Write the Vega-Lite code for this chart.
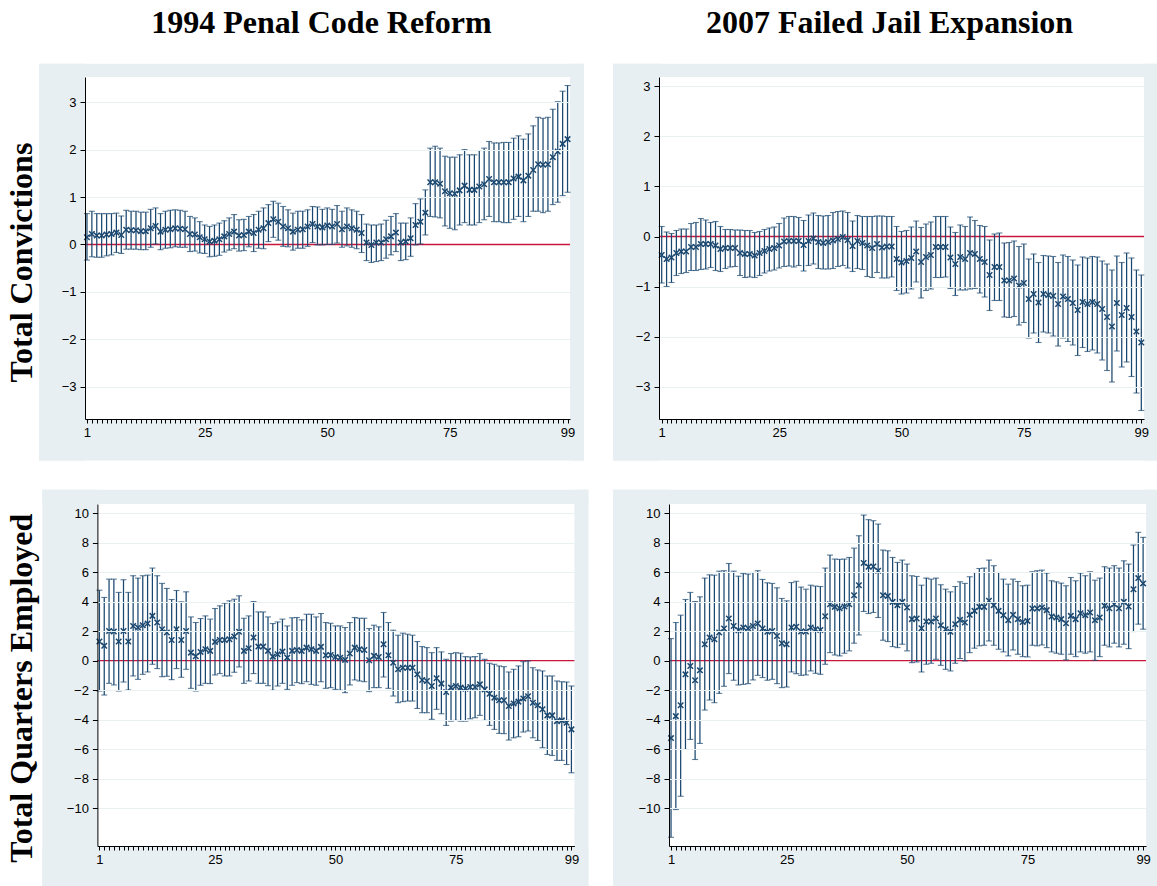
{
  "$schema": "https://vega.github.io/schema/vega-lite/v6.json",
  "background": "white",
  "padding": {"left": 5, "top": 6, "right": 0, "bottom": 0},
  "config": {
    "view": {"stroke": null},
    "axis": {"labelFont": "Liberation Sans", "labelFontSize": 13, "labelColor": "black", "domainColor": "black", "domainWidth": 1, "tickColor": "black", "tickWidth": 1, "gridColor": "#e9f1f3", "gridWidth": 1, "labelOverlap": false, "tickCount": 200, "format": "d"},
    "title": {"font": "Liberation Serif", "fontSize": 32, "fontWeight": "bold", "color": "black"}
  },
  "datasets": {
    "p1": [
      {"q":1,"est":0.15,"lo":-0.33,"hi":0.65},{"q":2,"est":0.22,"lo":-0.26,"hi":0.70},{"q":3,"est":0.19,"lo":-0.27,"hi":0.65},{"q":4,"est":0.19,"lo":-0.27,"hi":0.65},{"q":5,"est":0.21,"lo":-0.24,"hi":0.65},{"q":6,"est":0.22,"lo":-0.22,"hi":0.65},{"q":7,"est":0.25,"lo":-0.17,"hi":0.66},{"q":8,"est":0.20,"lo":-0.19,"hi":0.60},{"q":9,"est":0.31,"lo":-0.10,"hi":0.72},{"q":10,"est":0.30,"lo":-0.10,"hi":0.70},
      {"q":11,"est":0.30,"lo":-0.10,"hi":0.70},{"q":12,"est":0.28,"lo":-0.11,"hi":0.68},{"q":13,"est":0.28,"lo":-0.11,"hi":0.68},{"q":14,"est":0.34,"lo":-0.06,"hi":0.74},{"q":15,"est":0.39,"lo":0.01,"hi":0.77},{"q":16,"est":0.27,"lo":-0.11,"hi":0.65},{"q":17,"est":0.31,"lo":-0.08,"hi":0.70},{"q":18,"est":0.32,"lo":-0.07,"hi":0.72},{"q":19,"est":0.34,"lo":-0.05,"hi":0.73},{"q":20,"est":0.33,"lo":-0.06,"hi":0.72},
      {"q":21,"est":0.32,"lo":-0.06,"hi":0.70},{"q":22,"est":0.22,"lo":-0.15,"hi":0.59},{"q":23,"est":0.21,"lo":-0.14,"hi":0.56},{"q":24,"est":0.15,"lo":-0.18,"hi":0.48},{"q":25,"est":0.11,"lo":-0.19,"hi":0.41},{"q":26,"est":0.06,"lo":-0.26,"hi":0.38},{"q":27,"est":0.08,"lo":-0.25,"hi":0.41},{"q":28,"est":0.11,"lo":-0.23,"hi":0.45},{"q":29,"est":0.17,"lo":-0.16,"hi":0.50},{"q":30,"est":0.22,"lo":-0.12,"hi":0.56},
      {"q":31,"est":0.27,"lo":-0.09,"hi":0.63},{"q":32,"est":0.19,"lo":-0.14,"hi":0.52},{"q":33,"est":0.20,"lo":-0.13,"hi":0.53},{"q":34,"est":0.27,"lo":-0.05,"hi":0.59},{"q":35,"est":0.24,"lo":-0.15,"hi":0.63},{"q":36,"est":0.31,"lo":-0.08,"hi":0.70},{"q":37,"est":0.34,"lo":-0.09,"hi":0.77},{"q":38,"est":0.45,"lo":0.06,"hi":0.84},{"q":39,"est":0.53,"lo":0.15,"hi":0.91},{"q":40,"est":0.48,"lo":0.09,"hi":0.87},
      {"q":41,"est":0.38,"lo":-0.04,"hi":0.80},{"q":42,"est":0.34,"lo":-0.05,"hi":0.73},{"q":43,"est":0.27,"lo":-0.12,"hi":0.66},{"q":44,"est":0.31,"lo":-0.08,"hi":0.70},{"q":45,"est":0.32,"lo":-0.08,"hi":0.70},{"q":46,"est":0.38,"lo":-0.04,"hi":0.73},{"q":47,"est":0.43,"lo":0.04,"hi":0.80},{"q":48,"est":0.38,"lo":-0.01,"hi":0.79},{"q":49,"est":0.36,"lo":-0.01,"hi":0.74},{"q":50,"est":0.40,"lo":0.00,"hi":0.77},
      {"q":51,"est":0.38,"lo":0.00,"hi":0.74},{"q":52,"est":0.43,"lo":0.03,"hi":0.82},{"q":53,"est":0.32,"lo":-0.06,"hi":0.70},{"q":54,"est":0.38,"lo":-0.03,"hi":0.77},{"q":55,"est":0.34,"lo":-0.06,"hi":0.73},{"q":56,"est":0.31,"lo":-0.09,"hi":0.70},{"q":57,"est":0.24,"lo":-0.17,"hi":0.63},{"q":58,"est":0.04,"lo":-0.34,"hi":0.43},{"q":59,"est":-0.01,"lo":-0.38,"hi":0.41},{"q":60,"est":0.04,"lo":-0.36,"hi":0.41},
      {"q":61,"est":0.04,"lo":-0.34,"hi":0.43},{"q":62,"est":0.11,"lo":-0.29,"hi":0.51},{"q":63,"est":0.17,"lo":-0.22,"hi":0.59},{"q":64,"est":0.25,"lo":-0.15,"hi":0.65},{"q":65,"est":0.04,"lo":-0.34,"hi":0.45},{"q":66,"est":0.06,"lo":-0.32,"hi":0.45},{"q":67,"est":0.13,"lo":-0.25,"hi":0.56},{"q":68,"est":0.41,"lo":-0.01,"hi":0.86},{"q":69,"est":0.48,"lo":0.01,"hi":0.96},{"q":70,"est":0.67,"lo":0.20,"hi":1.15},
      {"q":71,"est":1.31,"lo":0.59,"hi":2.03},{"q":72,"est":1.31,"lo":0.58,"hi":2.07},{"q":73,"est":1.28,"lo":0.56,"hi":2.03},{"q":74,"est":1.12,"lo":0.39,"hi":1.86},{"q":75,"est":1.08,"lo":0.34,"hi":1.84},{"q":76,"est":1.07,"lo":0.31,"hi":1.84},{"q":77,"est":1.14,"lo":0.41,"hi":1.89},{"q":78,"est":1.24,"lo":0.46,"hi":2.00},{"q":79,"est":1.15,"lo":0.41,"hi":1.89},{"q":80,"est":1.15,"lo":0.41,"hi":1.89},
      {"q":81,"est":1.22,"lo":0.46,"hi":1.98},{"q":82,"est":1.27,"lo":0.52,"hi":2.03},{"q":83,"est":1.38,"lo":0.59,"hi":2.17},{"q":84,"est":1.31,"lo":0.48,"hi":2.14},{"q":85,"est":1.31,"lo":0.48,"hi":2.14},{"q":86,"est":1.31,"lo":0.46,"hi":2.15},{"q":87,"est":1.31,"lo":0.46,"hi":2.15},{"q":88,"est":1.39,"lo":0.53,"hi":2.24},{"q":89,"est":1.43,"lo":0.59,"hi":2.29},{"q":90,"est":1.35,"lo":0.48,"hi":2.22},
      {"q":91,"est":1.45,"lo":0.59,"hi":2.33},{"q":92,"est":1.57,"lo":0.70,"hi":2.50},{"q":93,"est":1.69,"lo":0.70,"hi":2.68},{"q":94,"est":1.68,"lo":0.67,"hi":2.66},{"q":95,"est":1.69,"lo":0.70,"hi":2.68},{"q":96,"est":1.84,"lo":0.84,"hi":2.85},{"q":97,"est":1.96,"lo":0.89,"hi":3.01},{"q":98,"est":2.12,"lo":1.03,"hi":3.23},{"q":99,"est":2.22,"lo":1.10,"hi":3.35}
    ],
    "p2": [
      {"q":1,"est":-0.37,"lo":-0.93,"hi":0.20},{"q":2,"est":-0.45,"lo":-1.00,"hi":0.09},{"q":3,"est":-0.42,"lo":-0.92,"hi":0.06},{"q":4,"est":-0.33,"lo":-0.78,"hi":0.12},{"q":5,"est":-0.30,"lo":-0.74,"hi":0.15},{"q":6,"est":-0.30,"lo":-0.72,"hi":0.15},{"q":7,"est":-0.21,"lo":-0.68,"hi":0.26},{"q":8,"est":-0.21,"lo":-0.68,"hi":0.28},{"q":9,"est":-0.15,"lo":-0.66,"hi":0.36},{"q":10,"est":-0.15,"lo":-0.65,"hi":0.33},
      {"q":11,"est":-0.15,"lo":-0.62,"hi":0.28},{"q":12,"est":-0.18,"lo":-0.68,"hi":0.30},{"q":13,"est":-0.25,"lo":-0.70,"hi":0.20},{"q":14,"est":-0.23,"lo":-0.64,"hi":0.14},{"q":15,"est":-0.23,"lo":-0.61,"hi":0.14},{"q":16,"est":-0.23,"lo":-0.60,"hi":0.13},{"q":17,"est":-0.33,"lo":-0.78,"hi":0.13},{"q":18,"est":-0.35,"lo":-0.82,"hi":0.12},{"q":19,"est":-0.35,"lo":-0.81,"hi":0.12},{"q":20,"est":-0.38,"lo":-0.82,"hi":0.08},
      {"q":21,"est":-0.33,"lo":-0.78,"hi":0.10},{"q":22,"est":-0.29,"lo":-0.73,"hi":0.14},{"q":23,"est":-0.25,"lo":-0.69,"hi":0.17},{"q":24,"est":-0.23,"lo":-0.67,"hi":0.19},{"q":25,"est":-0.18,"lo":-0.63,"hi":0.26},{"q":26,"est":-0.10,"lo":-0.60,"hi":0.37},{"q":27,"est":-0.09,"lo":-0.59,"hi":0.40},{"q":28,"est":-0.09,"lo":-0.61,"hi":0.40},{"q":29,"est":-0.09,"lo":-0.58,"hi":0.38},{"q":30,"est":-0.17,"lo":-0.69,"hi":0.32},
      {"q":31,"est":-0.09,"lo":-0.58,"hi":0.43},{"q":32,"est":-0.04,"lo":-0.55,"hi":0.47},{"q":33,"est":-0.11,"lo":-0.64,"hi":0.42},{"q":34,"est":-0.13,"lo":-0.65,"hi":0.41},{"q":35,"est":-0.11,"lo":-0.65,"hi":0.42},{"q":36,"est":-0.08,"lo":-0.64,"hi":0.48},{"q":37,"est":-0.05,"lo":-0.60,"hi":0.50},{"q":38,"est":-0.01,"lo":-0.58,"hi":0.51},{"q":39,"est":-0.07,"lo":-0.63,"hi":0.48},{"q":40,"est":-0.19,"lo":-0.70,"hi":0.31},
      {"q":41,"est":-0.09,"lo":-0.64,"hi":0.42},{"q":42,"est":-0.13,"lo":-0.66,"hi":0.40},{"q":43,"est":-0.18,"lo":-0.80,"hi":0.40},{"q":44,"est":-0.23,"lo":-0.82,"hi":0.40},{"q":45,"est":-0.15,"lo":-0.72,"hi":0.41},{"q":46,"est":-0.22,"lo":-0.83,"hi":0.41},{"q":47,"est":-0.20,"lo":-0.83,"hi":0.40},{"q":48,"est":-0.20,"lo":-0.81,"hi":0.40},{"q":49,"est":-0.45,"lo":-1.08,"hi":0.20},{"q":50,"est":-0.52,"lo":-1.15,"hi":0.10},
      {"q":51,"est":-0.49,"lo":-1.13,"hi":0.12},{"q":52,"est":-0.43,"lo":-1.05,"hi":0.19},{"q":53,"est":-0.30,"lo":-0.91,"hi":0.31},{"q":54,"est":-0.51,"lo":-1.23,"hi":0.18},{"q":55,"est":-0.41,"lo":-1.08,"hi":0.25},{"q":56,"est":-0.37,"lo":-1.05,"hi":0.29},{"q":57,"est":-0.21,"lo":-0.82,"hi":0.40},{"q":58,"est":-0.21,"lo":-0.82,"hi":0.40},{"q":59,"est":-0.21,"lo":-0.81,"hi":0.40},{"q":60,"est":-0.42,"lo":-1.04,"hi":0.19},
      {"q":61,"est":-0.55,"lo":-1.18,"hi":0.08},{"q":62,"est":-0.41,"lo":-1.07,"hi":0.23},{"q":63,"est":-0.45,"lo":-1.07,"hi":0.20},{"q":64,"est":-0.33,"lo":-1.05,"hi":0.39},{"q":65,"est":-0.35,"lo":-1.04,"hi":0.32},{"q":66,"est":-0.45,"lo":-1.13,"hi":0.22},{"q":67,"est":-0.51,"lo":-1.21,"hi":0.20},{"q":68,"est":-0.77,"lo":-1.48,"hi":-0.07},{"q":69,"est":-0.61,"lo":-1.28,"hi":0.05},{"q":70,"est":-0.61,"lo":-1.28,"hi":0.07},
      {"q":71,"est":-0.88,"lo":-1.61,"hi":-0.13},{"q":72,"est":-0.88,"lo":-1.62,"hi":-0.12},{"q":73,"est":-0.84,"lo":-1.60,"hi":-0.09},{"q":74,"est":-0.98,"lo":-1.77,"hi":-0.20},{"q":75,"est":-0.93,"lo":-1.72,"hi":-0.15},{"q":76,"est":-1.25,"lo":-2.03,"hi":-0.45},{"q":77,"est":-1.15,"lo":-1.93,"hi":-0.35},{"q":78,"est":-1.32,"lo":-2.12,"hi":-0.52},{"q":79,"est":-1.15,"lo":-1.91,"hi":-0.38},{"q":80,"est":-1.17,"lo":-1.93,"hi":-0.39},
      {"q":81,"est":-1.19,"lo":-1.99,"hi":-0.40},{"q":82,"est":-1.35,"lo":-2.19,"hi":-0.52},{"q":83,"est":-1.20,"lo":-2.03,"hi":-0.37},{"q":84,"est":-1.25,"lo":-2.10,"hi":-0.40},{"q":85,"est":-1.33,"lo":-2.17,"hi":-0.47},{"q":86,"est":-1.47,"lo":-2.38,"hi":-0.57},{"q":87,"est":-1.31,"lo":-2.22,"hi":-0.41},{"q":88,"est":-1.35,"lo":-2.30,"hi":-0.43},{"q":89,"est":-1.31,"lo":-2.27,"hi":-0.40},{"q":90,"est":-1.35,"lo":-2.33,"hi":-0.41},
      {"q":91,"est":-1.45,"lo":-2.47,"hi":-0.49},{"q":92,"est":-1.61,"lo":-2.68,"hi":-0.55},{"q":93,"est":-1.80,"lo":-2.91,"hi":-0.67},{"q":94,"est":-1.33,"lo":-2.29,"hi":-0.39},{"q":95,"est":-1.57,"lo":-2.61,"hi":-0.52},{"q":96,"est":-1.43,"lo":-2.51,"hi":-0.33},{"q":97,"est":-1.61,"lo":-2.80,"hi":-0.43},{"q":98,"est":-1.90,"lo":-3.13,"hi":-0.67},{"q":99,"est":-2.12,"lo":-3.48,"hi":-0.77}
    ],
    "p3": [
      {"q":1,"est":1.29,"lo":-2.06,"hi":4.77},{"q":2,"est":1.00,"lo":-2.33,"hi":4.28},{"q":3,"est":2.01,"lo":-1.54,"hi":5.52},{"q":4,"est":1.97,"lo":-1.65,"hi":5.52},{"q":5,"est":1.29,"lo":-2.06,"hi":4.62},{"q":6,"est":2.01,"lo":-1.45,"hi":5.48},{"q":7,"est":1.29,"lo":-1.99,"hi":4.62},{"q":8,"est":2.35,"lo":-1.04,"hi":5.75},{"q":9,"est":2.24,"lo":-1.27,"hi":5.59},{"q":10,"est":2.40,"lo":-0.93,"hi":5.75},
      {"q":11,"est":2.51,"lo":-0.77,"hi":5.79},{"q":12,"est":3.03,"lo":-0.25,"hi":6.27},{"q":13,"est":2.58,"lo":-0.54,"hi":5.75},{"q":14,"est":2.13,"lo":-1.09,"hi":5.23},{"q":15,"est":1.90,"lo":-1.06,"hi":4.89},{"q":16,"est":1.40,"lo":-1.29,"hi":4.14},{"q":17,"est":2.13,"lo":-0.54,"hi":4.75},{"q":18,"est":1.40,"lo":-1.13,"hi":3.98},{"q":19,"est":2.01,"lo":-0.59,"hi":4.66},{"q":20,"est":0.54,"lo":-1.88,"hi":2.96},
      {"q":21,"est":0.29,"lo":-2.06,"hi":2.58},{"q":22,"est":0.59,"lo":-1.67,"hi":2.85},{"q":23,"est":0.77,"lo":-1.54,"hi":3.03},{"q":24,"est":0.66,"lo":-1.56,"hi":2.81},{"q":25,"est":1.27,"lo":-0.97,"hi":3.53},{"q":26,"est":1.40,"lo":-0.88,"hi":3.71},{"q":27,"est":1.40,"lo":-1.04,"hi":3.89},{"q":28,"est":1.45,"lo":-1.04,"hi":4.05},{"q":29,"est":1.63,"lo":-0.79,"hi":4.16},{"q":30,"est":1.95,"lo":-0.43,"hi":4.39},
      {"q":31,"est":0.66,"lo":-1.54,"hi":2.87},{"q":32,"est":0.84,"lo":-1.38,"hi":3.03},{"q":33,"est":1.56,"lo":-0.88,"hi":4.00},{"q":34,"est":0.95,"lo":-1.54,"hi":3.30},{"q":35,"est":0.95,"lo":-1.54,"hi":3.30},{"q":36,"est":0.66,"lo":-1.70,"hi":2.96},{"q":37,"est":0.27,"lo":-2.01,"hi":2.51},{"q":38,"est":0.43,"lo":-1.72,"hi":2.62},{"q":39,"est":0.61,"lo":-1.54,"hi":2.81},{"q":40,"est":0.20,"lo":-1.95,"hi":2.35},
      {"q":41,"est":0.66,"lo":-1.67,"hi":2.90},{"q":42,"est":0.72,"lo":-1.49,"hi":2.92},{"q":43,"est":0.66,"lo":-1.56,"hi":2.76},{"q":44,"est":0.88,"lo":-1.43,"hi":3.14},{"q":45,"est":0.77,"lo":-1.61,"hi":3.14},{"q":46,"est":0.66,"lo":-1.67,"hi":2.96},{"q":47,"est":0.93,"lo":-1.43,"hi":3.19},{"q":48,"est":0.36,"lo":-1.88,"hi":2.58},{"q":49,"est":0.38,"lo":-1.83,"hi":2.53},{"q":50,"est":0.25,"lo":-1.95,"hi":2.35},
      {"q":51,"est":0.20,"lo":-2.01,"hi":2.35},{"q":52,"est":0.05,"lo":-2.17,"hi":2.24},{"q":53,"est":0.48,"lo":-1.65,"hi":2.58},{"q":54,"est":0.88,"lo":-1.31,"hi":2.92},{"q":55,"est":0.77,"lo":-1.38,"hi":2.87},{"q":56,"est":0.72,"lo":-1.43,"hi":2.87},{"q":57,"est":0.02,"lo":-2.10,"hi":2.17},{"q":58,"est":0.32,"lo":-1.83,"hi":2.40},{"q":59,"est":0.25,"lo":-1.83,"hi":2.29},{"q":60,"est":1.11,"lo":-1.11,"hi":3.26},
      {"q":61,"est":0.36,"lo":-1.88,"hi":2.58},{"q":62,"est":-0.14,"lo":-2.40,"hi":2.06},{"q":63,"est":-0.59,"lo":-2.85,"hi":1.72},{"q":64,"est":-0.48,"lo":-2.78,"hi":1.86},{"q":65,"est":-0.48,"lo":-2.74,"hi":1.79},{"q":66,"est":-0.48,"lo":-2.74,"hi":1.72},{"q":67,"est":-0.93,"lo":-3.24,"hi":1.29},{"q":68,"est":-1.31,"lo":-3.53,"hi":0.95},{"q":69,"est":-1.38,"lo":-3.53,"hi":0.88},{"q":70,"est":-1.72,"lo":-3.98,"hi":0.54},
      {"q":71,"est":-1.20,"lo":-3.30,"hi":0.88},{"q":72,"est":-1.56,"lo":-3.60,"hi":0.59},{"q":73,"est":-2.13,"lo":-4.39,"hi":0.09},{"q":74,"est":-1.83,"lo":-4.10,"hi":0.48},{"q":75,"est":-1.72,"lo":-4.05,"hi":0.54},{"q":76,"est":-1.83,"lo":-4.10,"hi":0.50},{"q":77,"est":-1.90,"lo":-4.10,"hi":0.27},{"q":78,"est":-1.79,"lo":-3.94,"hi":0.25},{"q":79,"est":-1.79,"lo":-3.87,"hi":0.27},{"q":80,"est":-1.61,"lo":-3.71,"hi":0.48},
      {"q":81,"est":-1.95,"lo":-4.05,"hi":0.09},{"q":82,"est":-2.24,"lo":-4.39,"hi":-0.18},{"q":83,"est":-2.51,"lo":-4.66,"hi":-0.25},{"q":84,"est":-2.69,"lo":-4.93,"hi":-0.36},{"q":85,"est":-2.69,"lo":-4.95,"hi":-0.41},{"q":86,"est":-3.08,"lo":-5.38,"hi":-0.77},{"q":87,"est":-2.90,"lo":-5.23,"hi":-0.59},{"q":88,"est":-2.78,"lo":-5.16,"hi":-0.36},{"q":89,"est":-2.56,"lo":-4.84,"hi":-0.07},{"q":90,"est":-2.42,"lo":-4.77,"hi":-0.02},
      {"q":91,"est":-2.85,"lo":-5.23,"hi":-0.48},{"q":92,"est":-3.03,"lo":-5.41,"hi":-0.63},{"q":93,"est":-3.30,"lo":-5.90,"hi":-0.70},{"q":94,"est":-3.71,"lo":-6.36,"hi":-1.04},{"q":95,"est":-3.71,"lo":-6.43,"hi":-1.04},{"q":96,"est":-4.10,"lo":-6.76,"hi":-1.38},{"q":97,"est":-4.05,"lo":-6.76,"hi":-1.43},{"q":98,"est":-4.21,"lo":-7.04,"hi":-1.45},{"q":99,"est":-4.66,"lo":-7.60,"hi":-1.72}
    ],
    "p4": [
      {"q":1,"est":-5.25,"lo":-11.97,"hi":1.49},{"q":2,"est":-3.76,"lo":-10.09,"hi":2.58},{"q":3,"est":-3.03,"lo":-9.19,"hi":3.08},{"q":4,"est":-0.93,"lo":-6.02,"hi":4.14},{"q":5,"est":-0.36,"lo":-5.34,"hi":4.62},{"q":6,"est":-1.33,"lo":-6.70,"hi":4.00},{"q":7,"est":-0.66,"lo":-5.61,"hi":4.32},{"q":8,"est":1.11,"lo":-3.35,"hi":5.59},{"q":9,"est":1.56,"lo":-2.67,"hi":5.81},{"q":10,"est":1.45,"lo":-2.85,"hi":5.79},
      {"q":11,"est":1.90,"lo":-2.22,"hi":6.06},{"q":12,"est":2.17,"lo":-1.74,"hi":6.09},{"q":13,"est":2.85,"lo":-0.88,"hi":6.58},{"q":14,"est":2.35,"lo":-1.33,"hi":6.06},{"q":15,"est":2.06,"lo":-1.65,"hi":5.72},{"q":16,"est":2.24,"lo":-1.61,"hi":5.90},{"q":17,"est":2.19,"lo":-1.56,"hi":5.86},{"q":18,"est":2.35,"lo":-1.31,"hi":5.97},{"q":19,"est":2.51,"lo":-1.00,"hi":6.09},{"q":20,"est":2.17,"lo":-1.15,"hi":5.50},
      {"q":21,"est":1.95,"lo":-1.33,"hi":5.27},{"q":22,"est":2.01,"lo":-1.27,"hi":5.23},{"q":23,"est":1.67,"lo":-1.56,"hi":4.93},{"q":24,"est":1.18,"lo":-1.83,"hi":4.21},{"q":25,"est":1.11,"lo":-1.79,"hi":4.05},{"q":26,"est":2.24,"lo":-0.77,"hi":5.29},{"q":27,"est":2.29,"lo":-0.88,"hi":5.38},{"q":28,"est":1.97,"lo":-1.00,"hi":4.98},{"q":29,"est":1.97,"lo":-0.97,"hi":4.84},{"q":30,"est":2.24,"lo":-0.70,"hi":5.11},
      {"q":31,"est":2.13,"lo":-0.86,"hi":5.05},{"q":32,"est":2.08,"lo":-0.93,"hi":5.02},{"q":33,"est":3.01,"lo":-0.25,"hi":6.27},{"q":34,"est":3.82,"lo":0.54,"hi":7.15},{"q":35,"est":3.64,"lo":0.38,"hi":6.88},{"q":36,"est":3.55,"lo":0.32,"hi":6.86},{"q":37,"est":3.67,"lo":0.50,"hi":6.88},{"q":38,"est":3.82,"lo":0.66,"hi":6.99},{"q":39,"est":4.43,"lo":1.18,"hi":7.62},{"q":40,"est":5.11,"lo":1.74,"hi":8.46},
      {"q":41,"est":6.61,"lo":3.33,"hi":9.86},{"q":42,"est":6.36,"lo":3.19,"hi":9.55},{"q":43,"est":6.38,"lo":3.26,"hi":9.48},{"q":44,"est":6.09,"lo":2.92,"hi":9.25},{"q":45,"est":4.43,"lo":1.38,"hi":7.49},{"q":46,"est":4.37,"lo":1.29,"hi":7.44},{"q":47,"est":3.98,"lo":0.95,"hi":6.99},{"q":48,"est":3.76,"lo":0.88,"hi":6.65},{"q":49,"est":3.98,"lo":1.11,"hi":6.81},{"q":50,"est":3.60,"lo":0.66,"hi":6.54},
      {"q":51,"est":2.81,"lo":-0.14,"hi":5.75},{"q":52,"est":2.85,"lo":-0.09,"hi":5.70},{"q":53,"est":2.19,"lo":-0.77,"hi":5.11},{"q":54,"est":2.65,"lo":-0.25,"hi":5.59},{"q":55,"est":2.65,"lo":-0.18,"hi":5.52},{"q":56,"est":2.85,"lo":0.09,"hi":5.59},{"q":57,"est":2.40,"lo":-0.32,"hi":5.14},{"q":58,"est":2.13,"lo":-0.59,"hi":4.84},{"q":59,"est":1.95,"lo":-0.70,"hi":4.66},{"q":60,"est":2.47,"lo":-0.18,"hi":5.02},
      {"q":61,"est":2.76,"lo":0.14,"hi":5.34},{"q":62,"est":2.58,"lo":-0.02,"hi":5.23},{"q":63,"est":3.10,"lo":0.54,"hi":5.68},{"q":64,"est":3.37,"lo":0.84,"hi":5.97},{"q":65,"est":3.64,"lo":1.00,"hi":6.24},{"q":66,"est":3.64,"lo":1.04,"hi":6.27},{"q":67,"est":4.05,"lo":1.33,"hi":6.81},{"q":68,"est":3.76,"lo":1.04,"hi":6.43},{"q":69,"est":3.37,"lo":0.77,"hi":5.97},{"q":70,"est":3.08,"lo":0.59,"hi":5.52},
      {"q":71,"est":2.74,"lo":0.32,"hi":5.18},{"q":72,"est":3.10,"lo":0.72,"hi":5.52},{"q":73,"est":2.81,"lo":0.43,"hi":5.36},{"q":74,"est":2.62,"lo":0.27,"hi":5.07},{"q":75,"est":2.69,"lo":0.25,"hi":5.11},{"q":76,"est":3.53,"lo":1.04,"hi":6.02},{"q":77,"est":3.53,"lo":1.00,"hi":6.09},{"q":78,"est":3.60,"lo":1.06,"hi":6.13},{"q":79,"est":3.42,"lo":0.88,"hi":5.93},{"q":80,"est":2.99,"lo":0.59,"hi":5.41},
      {"q":81,"est":2.92,"lo":0.50,"hi":5.34},{"q":82,"est":2.81,"lo":0.43,"hi":5.25},{"q":83,"est":2.53,"lo":0.05,"hi":5.07},{"q":84,"est":3.03,"lo":0.43,"hi":5.63},{"q":85,"est":2.81,"lo":0.27,"hi":5.41},{"q":86,"est":3.21,"lo":0.59,"hi":5.93},{"q":87,"est":3.08,"lo":0.50,"hi":5.75},{"q":88,"est":3.26,"lo":0.59,"hi":6.02},{"q":89,"est":2.74,"lo":0.02,"hi":5.45},{"q":90,"est":2.92,"lo":0.27,"hi":5.59},
      {"q":91,"est":3.71,"lo":1.04,"hi":6.36},{"q":92,"est":3.55,"lo":0.93,"hi":6.27},{"q":93,"est":3.82,"lo":1.18,"hi":6.43},{"q":94,"est":3.55,"lo":0.93,"hi":6.27},{"q":95,"est":3.98,"lo":1.11,"hi":6.76},{"q":96,"est":3.67,"lo":0.81,"hi":6.54},{"q":97,"est":4.84,"lo":1.97,"hi":7.83},{"q":98,"est":5.59,"lo":2.47,"hi":8.69},{"q":99,"est":5.23,"lo":2.13,"hi":8.35}
    ]
  },
  "columns": 2,
  "align": {"row": "each", "column": "none"},
  "spacing": {"row": 28, "column": 23},
  "concat": [
    {
      "width": 485, "height": 342,
      "data": {"name": "p1"},
      "title": {"text": "1994 Penal Code Reform", "frame": "group", "anchor": "middle", "offset": 24, "dx": -6},
      "layer": [
        {"data": {"values": [{}]}, "mark": {"type": "rect", "color": "#e8eff2", "clip": false}, "encoding": {"x": {"datum": -8.78}, "x2": {"datum": 0.6}, "y": {"datum": -4.553}, "y2": {"datum": 3.81}}},
        {"data": {"values": [{}]}, "mark": {"type": "rect", "color": "#e8eff2", "clip": false}, "encoding": {"x": {"datum": 99.5}, "x2": {"datum": 102.35}, "y": {"datum": -4.553}, "y2": {"datum": 3.81}}},
        {"data": {"values": [{}]}, "mark": {"type": "rect", "color": "#e8eff2", "clip": false}, "encoding": {"x": {"datum": -8.78}, "x2": {"datum": 102.35}, "y": {"datum": 3.53}, "y2": {"datum": 3.81}}},
        {"data": {"values": [{}]}, "mark": {"type": "rect", "color": "#e8eff2", "clip": false}, "encoding": {"x": {"datum": -8.78}, "x2": {"datum": 102.35}, "y": {"datum": -4.553}, "y2": {"datum": -3.68}}},
        {"data": {"values": [{}]}, "mark": {"type": "rule", "color": "#c8163d", "strokeWidth": 1.4}, "encoding": {"y": {"datum": 0}}},
        {"mark": {"type": "rule", "color": "#1a476f", "strokeWidth": 1.25},
         "encoding": {
           "x": {"field": "q", "type": "quantitative", "scale": {"domain": [0.6, 99.5], "nice": false, "zero": false},
                 "axis": {"title": null, "grid": false, "zindex": 2, "tickCount": 200, "labelOverlap": false, "format": "d", "values": [1,2,3,4,5,6,7,8,9,10,11,12,13,14,15,16,17,18,19,20,21,22,23,24,25,26,27,28,29,30,31,32,33,34,35,36,37,38,39,40,41,42,43,44,45,46,47,48,49,50,51,52,53,54,55,56,57,58,59,60,61,62,63,64,65,66,67,68,69,70,71,72,73,74,75,76,77,78,79,80,81,82,83,84,85,86,87,88,89,90,91,92,93,94,95,96,97,98,99],
                          "labelExpr": "indexof([1,25,50,75,99], datum.value) >= 0 ? datum.label : ''", "labelFlush": false, "tickSize": 4, "labelPadding": 3}},
           "y": {"field": "lo", "type": "quantitative", "scale": {"domain": [-3.68, 3.53], "nice": false, "zero": false},
                 "axis": {"values": [-3,-2,-1,0,1,2,3], "format": "d", "tickCount": 200, "labelOverlap": false, "grid": true, "zindex": 2, "gridOpacity": {"condition": {"test": "datum.value === 0", "value": 0}, "value": 1}, "tickSize": 5, "labelPadding": 4,
                          "title": "Total Convictions", "titleFont": "Liberation Serif", "titleFontSize": 32, "titleFontWeight": "bold", "titleColor": "black", "titleX": -63.5, "titleY": 185, "titleAngle": -90, "titleAlign": "center", "titleBaseline": "middle"}},
           "y2": {"field": "hi"}
         }},
        {"mark": {"type": "tick", "orient": "horizontal", "size": 6, "thickness": 1.1, "color": "#1a476f"}, "encoding": {"x": {"field": "q", "type": "quantitative"}, "y": {"field": "lo", "type": "quantitative"}}},
        {"mark": {"type": "tick", "orient": "horizontal", "size": 6, "thickness": 1.1, "color": "#1a476f"}, "encoding": {"x": {"field": "q", "type": "quantitative"}, "y": {"field": "hi", "type": "quantitative"}}},
        {"mark": {"type": "point", "shape": "M-1,-1L1,1M-1,1L1,-1", "size": 30, "filled": false, "strokeWidth": 1.5, "color": "#1a476f", "opacity": 1}, "encoding": {"x": {"field": "q", "type": "quantitative"}, "y": {"field": "est", "type": "quantitative"}}}
      ]
    },
    {
      "width": 485, "height": 342,
      "data": {"name": "p2"},
      "title": {"text": "2007 Failed Jail Expansion", "frame": "group", "anchor": "middle", "offset": 24, "dx": -12},
      "layer": [
        {"data": {"values": [{}]}, "mark": {"type": "rect", "color": "#e8eff2", "clip": false}, "encoding": {"x": {"datum": -8.95}, "x2": {"datum": 0.45}, "y": {"datum": -4.478}, "y2": {"datum": 3.456}}},
        {"data": {"values": [{}]}, "mark": {"type": "rect", "color": "#e8eff2", "clip": false}, "encoding": {"x": {"datum": 99.55}, "x2": {"datum": 102.4}, "y": {"datum": -4.478}, "y2": {"datum": 3.456}}},
        {"data": {"values": [{}]}, "mark": {"type": "rect", "color": "#e8eff2", "clip": false}, "encoding": {"x": {"datum": -8.95}, "x2": {"datum": 102.4}, "y": {"datum": 3.19}, "y2": {"datum": 3.456}}},
        {"data": {"values": [{}]}, "mark": {"type": "rect", "color": "#e8eff2", "clip": false}, "encoding": {"x": {"datum": -8.95}, "x2": {"datum": 102.4}, "y": {"datum": -4.478}, "y2": {"datum": -3.65}}},
        {"data": {"values": [{}]}, "mark": {"type": "rule", "color": "#c8163d", "strokeWidth": 1.4}, "encoding": {"y": {"datum": 0}}},
        {"mark": {"type": "rule", "color": "#1a476f", "strokeWidth": 1.25},
         "encoding": {
           "x": {"field": "q", "type": "quantitative", "scale": {"domain": [0.45, 99.55], "nice": false, "zero": false},
                 "axis": {"title": null, "grid": false, "zindex": 2, "tickCount": 200, "labelOverlap": false, "format": "d", "values": [1,2,3,4,5,6,7,8,9,10,11,12,13,14,15,16,17,18,19,20,21,22,23,24,25,26,27,28,29,30,31,32,33,34,35,36,37,38,39,40,41,42,43,44,45,46,47,48,49,50,51,52,53,54,55,56,57,58,59,60,61,62,63,64,65,66,67,68,69,70,71,72,73,74,75,76,77,78,79,80,81,82,83,84,85,86,87,88,89,90,91,92,93,94,95,96,97,98,99],
                          "labelExpr": "indexof([1,25,50,75,99], datum.value) >= 0 ? datum.label : ''", "labelFlush": false, "tickSize": 4, "labelPadding": 3}},
           "y": {"field": "lo", "type": "quantitative", "scale": {"domain": [-3.65, 3.19], "nice": false, "zero": false},
                 "axis": {"values": [-3,-2,-1,0,1,2,3], "format": "d", "tickCount": 200, "labelOverlap": false, "grid": true, "zindex": 2, "gridOpacity": {"condition": {"test": "datum.value === 0", "value": 0}, "value": 1}, "tickSize": 5, "labelPadding": 4, "title": null}},
           "y2": {"field": "hi"}
         }},
        {"mark": {"type": "tick", "orient": "horizontal", "size": 6, "thickness": 1.1, "color": "#1a476f"}, "encoding": {"x": {"field": "q", "type": "quantitative"}, "y": {"field": "lo", "type": "quantitative"}}},
        {"mark": {"type": "tick", "orient": "horizontal", "size": 6, "thickness": 1.1, "color": "#1a476f"}, "encoding": {"x": {"field": "q", "type": "quantitative"}, "y": {"field": "hi", "type": "quantitative"}}},
        {"mark": {"type": "point", "shape": "M-1,-1L1,1M-1,1L1,-1", "size": 30, "filled": false, "strokeWidth": 1.5, "color": "#1a476f", "opacity": 1}, "encoding": {"x": {"field": "q", "type": "quantitative"}, "y": {"field": "est", "type": "quantitative"}}}
      ]
    },
    {
      "width": 489.4, "height": 342,
      "data": {"name": "p3"},
      "layer": [
        {"data": {"values": [{}]}, "mark": {"type": "rect", "color": "#e8eff2", "clip": false}, "encoding": {"x": {"datum": -10.85}, "x2": {"datum": 0.58}, "y": {"datum": -15.27}, "y2": {"datum": 11.58}}},
        {"data": {"values": [{}]}, "mark": {"type": "rect", "color": "#e8eff2", "clip": false}, "encoding": {"x": {"datum": 99.62}, "x2": {"datum": 102.53}, "y": {"datum": -15.27}, "y2": {"datum": 11.58}}},
        {"data": {"values": [{}]}, "mark": {"type": "rect", "color": "#e8eff2", "clip": false}, "encoding": {"x": {"datum": -10.85}, "x2": {"datum": 102.53}, "y": {"datum": 10.61}, "y2": {"datum": 11.58}}},
        {"data": {"values": [{}]}, "mark": {"type": "rect", "color": "#e8eff2", "clip": false}, "encoding": {"x": {"datum": -10.85}, "x2": {"datum": 102.53}, "y": {"datum": -15.27}, "y2": {"datum": -12.56}}},
        {"data": {"values": [{}]}, "mark": {"type": "rule", "color": "#c8163d", "strokeWidth": 1.4}, "encoding": {"x": {"datum": 0.58}, "x2": {"datum": 99.62}, "y": {"datum": 0}}},
        {"mark": {"type": "rule", "color": "#1a476f", "strokeWidth": 1.25},
         "encoding": {
           "x": {"field": "q", "type": "quantitative", "scale": {"domain": [0.58, 99.62], "range": [12.4, 489.4], "nice": false, "zero": false},
                 "axis": {"title": null, "grid": false, "zindex": 2, "tickCount": 200, "labelOverlap": false, "format": "d", "values": [1,2,3,4,5,6,7,8,9,10,11,12,13,14,15,16,17,18,19,20,21,22,23,24,25,26,27,28,29,30,31,32,33,34,35,36,37,38,39,40,41,42,43,44,45,46,47,48,49,50,51,52,53,54,55,56,57,58,59,60,61,62,63,64,65,66,67,68,69,70,71,72,73,74,75,76,77,78,79,80,81,82,83,84,85,86,87,88,89,90,91,92,93,94,95,96,97,98,99],
                          "labelExpr": "indexof([1,25,50,75,99], datum.value) >= 0 ? datum.label : ''", "labelFlush": false, "tickSize": 4, "labelPadding": 3}},
           "y": {"field": "lo", "type": "quantitative", "scale": {"domain": [-12.56, 10.61], "nice": false, "zero": false},
                 "axis": {"values": [-10,-8,-6,-4,-2,0,2,4,6,8,10], "format": "d", "offset": -12.4, "tickCount": 200, "labelOverlap": false, "grid": true, "zindex": 2, "gridOpacity": {"condition": {"test": "datum.value === 0", "value": 0}, "value": 1}, "tickSize": 5, "labelPadding": 4,
                          "title": "Total Quarters Employed", "titleFont": "Liberation Serif", "titleFontSize": 32, "titleFontWeight": "bold", "titleColor": "black", "titleX": -75.9, "titleY": 183.7, "titleAngle": -90, "titleAlign": "center", "titleBaseline": "middle"}},
           "y2": {"field": "hi"}
         }},
        {"mark": {"type": "tick", "orient": "horizontal", "size": 6, "thickness": 1.1, "color": "#1a476f"}, "encoding": {"x": {"field": "q", "type": "quantitative"}, "y": {"field": "lo", "type": "quantitative"}}},
        {"mark": {"type": "tick", "orient": "horizontal", "size": 6, "thickness": 1.1, "color": "#1a476f"}, "encoding": {"x": {"field": "q", "type": "quantitative"}, "y": {"field": "hi", "type": "quantitative"}}},
        {"mark": {"type": "point", "shape": "M-1,-1L1,1M-1,1L1,-1", "size": 30, "filled": false, "strokeWidth": 1.5, "color": "#1a476f", "opacity": 1}, "encoding": {"x": {"field": "q", "type": "quantitative"}, "y": {"field": "est", "type": "quantitative"}}}
      ]
    },
    {
      "width": 477, "height": 342,
      "data": {"name": "p4"},
      "layer": [
        {"data": {"values": [{}]}, "mark": {"type": "rect", "color": "#e8eff2", "clip": false}, "encoding": {"x": {"datum": -11.05}, "x2": {"datum": 0.58}, "y": {"datum": -15.27}, "y2": {"datum": 11.58}}},
        {"data": {"values": [{}]}, "mark": {"type": "rect", "color": "#e8eff2", "clip": false}, "encoding": {"x": {"datum": 99.6}, "x2": {"datum": 102.2}, "y": {"datum": -15.27}, "y2": {"datum": 11.58}}},
        {"data": {"values": [{}]}, "mark": {"type": "rect", "color": "#e8eff2", "clip": false}, "encoding": {"x": {"datum": -11.05}, "x2": {"datum": 102.2}, "y": {"datum": 10.61}, "y2": {"datum": 11.58}}},
        {"data": {"values": [{}]}, "mark": {"type": "rect", "color": "#e8eff2", "clip": false}, "encoding": {"x": {"datum": -11.05}, "x2": {"datum": 102.2}, "y": {"datum": -15.27}, "y2": {"datum": -12.56}}},
        {"data": {"values": [{}]}, "mark": {"type": "rule", "color": "#c8163d", "strokeWidth": 1.4}, "encoding": {"y": {"datum": 0}}},
        {"mark": {"type": "rule", "color": "#1a476f", "strokeWidth": 1.25},
         "encoding": {
           "x": {"field": "q", "type": "quantitative", "scale": {"domain": [0.58, 99.6], "nice": false, "zero": false},
                 "axis": {"title": null, "grid": false, "zindex": 2, "tickCount": 200, "labelOverlap": false, "format": "d", "values": [1,2,3,4,5,6,7,8,9,10,11,12,13,14,15,16,17,18,19,20,21,22,23,24,25,26,27,28,29,30,31,32,33,34,35,36,37,38,39,40,41,42,43,44,45,46,47,48,49,50,51,52,53,54,55,56,57,58,59,60,61,62,63,64,65,66,67,68,69,70,71,72,73,74,75,76,77,78,79,80,81,82,83,84,85,86,87,88,89,90,91,92,93,94,95,96,97,98,99],
                          "labelExpr": "indexof([1,25,50,75,99], datum.value) >= 0 ? datum.label : ''", "labelFlush": false, "tickSize": 4, "labelPadding": 3}},
           "y": {"field": "lo", "type": "quantitative", "scale": {"domain": [-12.56, 10.61], "nice": false, "zero": false},
                 "axis": {"values": [-10,-8,-6,-4,-2,0,2,4,6,8,10], "format": "d", "tickCount": 200, "labelOverlap": false, "grid": true, "zindex": 2, "gridOpacity": {"condition": {"test": "datum.value === 0", "value": 0}, "value": 1}, "tickSize": 5, "labelPadding": 4, "title": null}},
           "y2": {"field": "hi"}
         }},
        {"mark": {"type": "tick", "orient": "horizontal", "size": 6, "thickness": 1.1, "color": "#1a476f"}, "encoding": {"x": {"field": "q", "type": "quantitative"}, "y": {"field": "lo", "type": "quantitative"}}},
        {"mark": {"type": "tick", "orient": "horizontal", "size": 6, "thickness": 1.1, "color": "#1a476f"}, "encoding": {"x": {"field": "q", "type": "quantitative"}, "y": {"field": "hi", "type": "quantitative"}}},
        {"mark": {"type": "point", "shape": "M-1,-1L1,1M-1,1L1,-1", "size": 30, "filled": false, "strokeWidth": 1.5, "color": "#1a476f", "opacity": 1}, "encoding": {"x": {"field": "q", "type": "quantitative"}, "y": {"field": "est", "type": "quantitative"}}}
      ]
    }
  ]
}
